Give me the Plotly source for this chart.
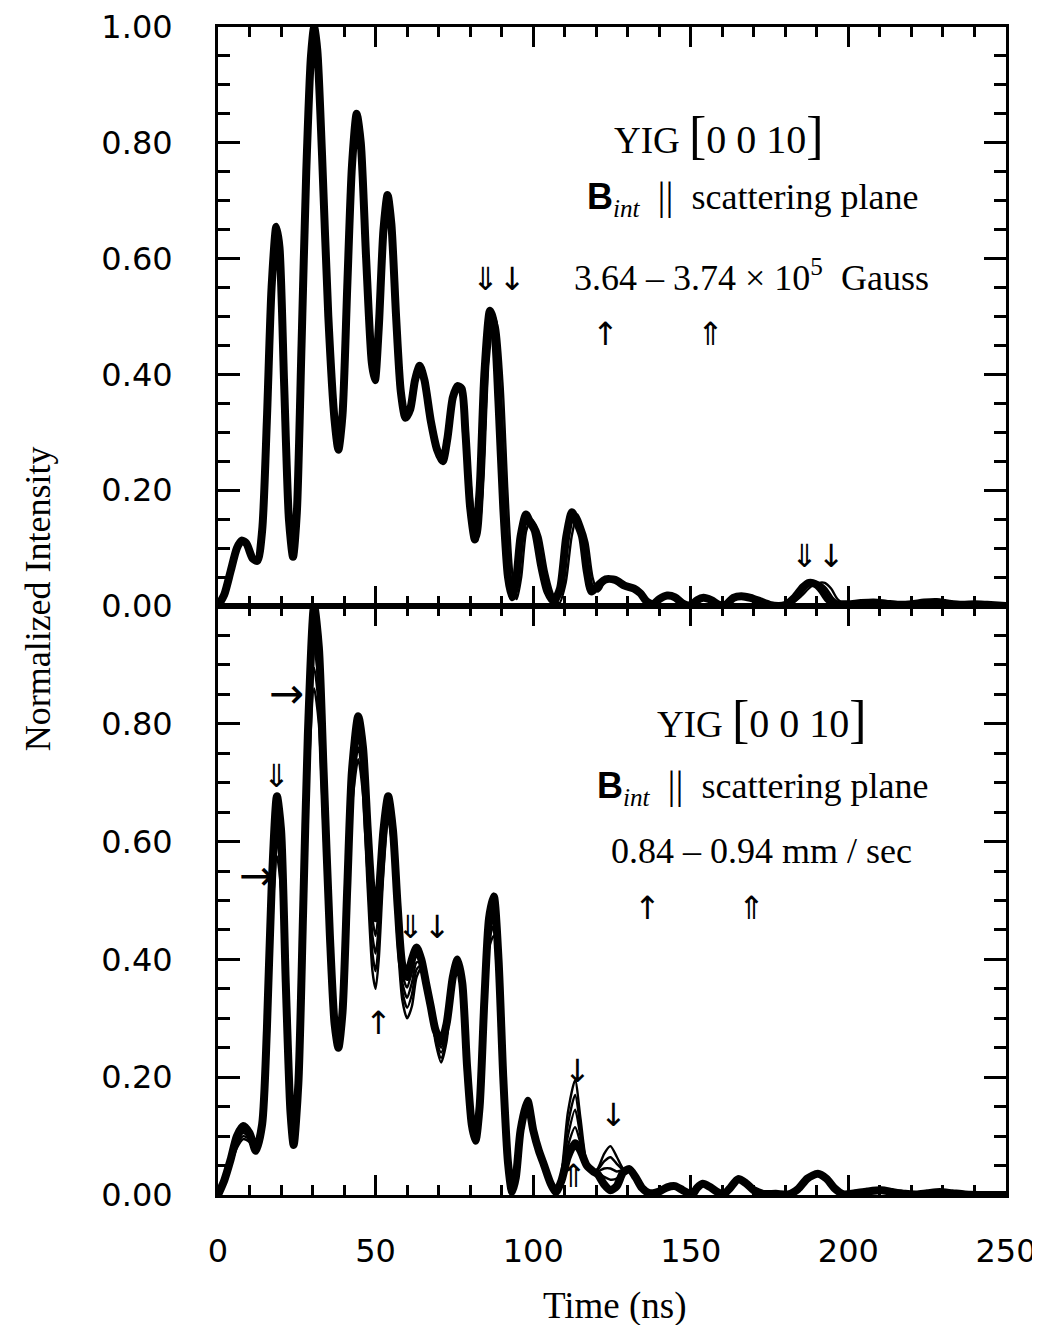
import plotly.graph_objects as go

# ---------------- data ----------------
# Top panel: reference curve (3.74e5 Gauss)
TOP_T = [0, 2, 4, 6, 7.5, 9, 11, 12.5, 14, 15.5,
         17, 18.5, 19.5, 21, 22.5, 23.8, 25, 26.5, 28, 29.5,
         30.5, 31.5, 33, 35, 37, 38.2, 39.5, 41, 42.5, 44,
         45.3, 47, 48.8, 49.8, 51, 52.5, 53.8, 55, 56.5, 58,
         59.5, 61, 62.5, 64, 65.5, 67.5, 69.5, 71.3, 72.8, 74.5,
         76, 77.3, 78.5, 80, 81.5, 83, 84.5, 86.3, 87.5, 89,
         90.5, 92, 93.3, 94.5, 96, 97.7, 99, 100.5, 102.5, 104.5,
         106.5, 108.5, 110.5, 112.3, 113.8, 115.5, 117, 118.5, 120.5, 123,
         126, 129, 132, 134, 136, 138, 140, 142.5, 145, 147.5,
         150, 152, 154, 156.5, 159, 161, 163.5, 166, 169, 172,
         175, 178, 180, 183, 185.5, 187.5, 189.5, 191.5, 193.5, 195.5,
         198, 200, 204, 208, 212, 216, 220, 224, 228, 232,
         236, 240, 244, 250]
TOP_Y = [0, .02, .06, .10, .113, .108, .082, .078, .13, .32,
         .55, .655, .62, .38, .15, .085, .16, .45, .75, .95,
         1.0, .96, .78, .50, .32, .27, .33, .55, .76, .85,
         .80, .60, .42, .39, .48, .65, .71, .66, .50, .37,
         .325, .34, .39, .415, .39, .32, .27, .25, .29, .36,
         .38, .375, .30, .17, .115, .20, .40, .51, .49, .35,
         .17, .05, .015, .04, .12, .158, .145, .13, .07, .025,
         .008, .03, .12, .162, .145, .12, .06, .025, .035, .046,
         .045, .035, .03, .022, .008, .003, .012, .018, .015, .004,
         .001, .01, .014, .01, .002, .002, .014, .017, .014, .008,
         .002, 0, .002, .015, .032, .04, .038, .028, .012, .004,
         .003, .003, .005, .006, .004, .002, .003, .006, .007, .004,
         .002, .003, .002, 0]

# Top panel: other field values, where they depart from the reference curve
TOP_369 = [
    [(18.5, .63)],
    [(44, .825)],
    [(80, .195), (81.7, .125), (83.2, .15), (84.8, .32), (86.4, .48), (87.6, .505),
     (88.8, .45), (90.2, .32), (91.6, .15), (93, .04), (94.2, .012), (95.4, .06),
     (97, .14), (98.6, .155), (100, .14), (101.5, .115), (103.5, .05), (105.5, .015),
     (107.5, .01), (109.5, .07), (111.3, .15), (113, .16), (114.7, .135), (116.3, .095),
     (117.8, .04), (119.5, .025), (121, .036)],
    [(181, .003), (184, .016), (186.5, .032), (188.8, .04), (191, .039), (193, .03),
     (195, .014), (197, .005), (199, .003)],
]
TOP_364 = [
    [(18.5, .61)],
    [(44, .81)],
    [(80, .22), (81.5, .14), (82.8, .12), (84.3, .23), (85.8, .42), (87.6, .50),
     (88.8, .48), (90.3, .38), (91.8, .20), (93.3, .06), (94.8, .012), (96.2, .05),
     (97.8, .13), (99.5, .15), (100.8, .14), (102.3, .12), (104.3, .06), (106.3, .02),
     (108.3, .005), (110.3, .04), (112.2, .12), (114, .158), (115.5, .14), (117.2, .11),
     (118.8, .05), (120.5, .025), (121.5, .03)],
    [(182, .004), (185, .017), (188, .033), (190.5, .04), (192.5, .04), (194.5, .03),
     (196.5, .012), (198.5, .004), (200, .003)],
]

# Bottom panel: five velocities, 0.84 ... 0.94 mm/s
BOT_T = [0, 2, 4, 6, 8, 10, 12, 14, 15.5, 17,
         18.7, 20, 21.5, 23, 24, 25.5, 27, 28.5,
         30.5, 32, 33.5, 35.5, 37, 38.2, 39.5, 41, 42.5, 44.5,
         46, 47.5, 49, 50, 51, 52.5, 54, 55.5, 57, 58.5,
         60, 61.5, 63, 64.5, 66, 67.5, 69, 70.8, 72.5, 74.5,
         76, 77.5, 79, 80.5, 81.7, 83, 84.5, 86, 87.5, 89,
         90.5, 92, 93.3, 94.5, 96, 98.2, 100, 101.8, 103.5, 105.5,
         107.2, 109, 111, 113.3, 115, 117, 119, 120.5, 122.5, 124.5,
         126.5, 128.5, 130.5, 132.5, 134.5]
BOT_084 = [0, .02, .05, .08, .095, .09, .072, .11, .25, .45,
           .575, .52, .30, .12, .085, .17, .42, .68,
           .86, .80, .62, .40, .28, .246, .30, .48, .66, .74,
           .68, .52, .38, .35, .40, .55, .64, .58, .43, .33,
           .30, .32, .37, .385, .37, .32, .26, .225, .26, .36,
           .39, .35, .22, .12, .092, .14, .30, .42, .44, .35,
           .18, .05, .005, .03, .11, .16, .11, .075, .05, .02,
           .005, .04, .14, .195, .13, .055, .04, .045, .07, .083,
           .065, .045, .04, .025, .01]
BOT_0865 = [0, .021, .052, .085, .10, .094, .073, .112, .26, .47,
            .60, .545, .315, .125, .085, .175, .435, .705,
            .895, .83, .645, .41, .28, .247, .30, .49, .675, .76,
            .70, .545, .41, .38, .43, .57, .65, .59, .445, .345,
            .318, .34, .383, .39, .368, .32, .265, .233, .268, .363,
            .393, .353, .22, .12, .092, .143, .308, .433, .457, .363,
            .185, .051, .005, .03, .11, .16, .11, .075, .05, .02,
            .005, .036, .12, .17, .115, .054, .04, .043, .057, .064,
            .053, .043, .041, .026, .011]
BOT_089 = [0, .022, .055, .09, .105, .097, .074, .115, .265, .485,
           .625, .57, .33, .13, .085, .18, .45, .73,
           .93, .865, .67, .42, .285, .248, .305, .50, .69, .775,
           .72, .57, .44, .41, .455, .585, .66, .60, .46, .36,
           .335, .36, .395, .393, .365, .32, .27, .242, .275, .365,
           .395, .355, .22, .12, .092, .145, .315, .445, .473, .375,
           .19, .052, .005, .03, .11, .16, .11, .075, .05, .02,
           .005, .033, .10, .145, .10, .053, .04, .04, .045, .045,
           .04, .042, .042, .028, .011]
BOT_0915 = [0, .024, .058, .095, .11, .10, .074, .118, .27, .50,
            .65, .595, .345, .135, .085, .185, .465, .755,
            .965, .90, .695, .43, .29, .249, .31, .51, .705, .795,
            .74, .595, .47, .44, .485, .60, .67, .61, .475, .375,
            .352, .38, .408, .397, .362, .32, .275, .25, .283, .368,
            .398, .358, .22, .12, .092, .148, .323, .458, .49, .388,
            .195, .054, .005, .03, .11, .16, .11, .075, .05, .02,
            .005, .029, .083, .115, .088, .051, .04, .038, .031, .026,
            .028, .04, .043, .029, .012]
BOT_094 = [0, .025, .06, .10, .117, .105, .075, .12, .28, .52,
           .677, .62, .36, .14, .085, .19, .48, .78,
           1.0, .93, .72, .44, .29, .25, .31, .52, .72, .813,
           .76, .62, .50, .47, .51, .62, .677, .62, .49, .39,
           .37, .40, .42, .40, .36, .32, .28, .26, .29, .37,
           .40, .36, .22, .12, .092, .15, .33, .47, .507, .40,
           .20, .055, .005, .03, .11, .16, .11, .075, .05, .02,
           .005, .025, .065, .088, .075, .05, .04, .035, .018, .008,
           .015, .038, .044, .03, .012]
BOT_TAIL_T = [136.5, 138, 140, 142.5, 145, 147.5, 150.5, 152, 153.8, 156,
              158.5, 160.5, 162.5, 165, 167.5, 170, 173, 177, 181, 184,
              187, 190.3, 193, 195.5, 198.5, 202, 206, 210.5, 214, 218,
              221.5, 225, 229, 233, 237, 243, 250]
BOT_TAIL_Y = [.004, .003, .006, .013, .015, .008, .001, .012, .019, .014,
              .005, .002, .012, .027, .02, .008, .002, .002, .001, .01,
              .028, .036, .028, .012, .001, .003, .006, .008, .005, .002,
              .001, .003, .005, .003, .001, 0, 0]

Y_TICKS = [0, 0.2, 0.4, 0.6, 0.8, 1.0]
Y_TOP_LABELS = ["0.00", "0.20", "0.40", "0.60", "0.80", "1.00"]
Y_BOT_TICKS = [0, 0.2, 0.4, 0.6, 0.8]
Y_BOT_LABELS = ["0.00", "0.20", "0.40", "0.60", "0.80"]
X_TICKS = [0, 50, 100, 150, 200, 250]


def merged(base_t, base_y, segments):
    pts = list(zip(base_t, base_y))
    for seg in segments:
        lo = min(p[0] for p in seg)
        hi = max(p[0] for p in seg)
        pts = [p for p in pts if not (lo <= p[0] <= hi)] + list(seg)
    pts.sort()
    return [p[0] for p in pts], [p[1] for p in pts]


fig = go.Figure()
THIN = 2.4
THICK = 8

# ---- top panel ----
for segs in (TOP_364, TOP_369):
    t, y = merged(TOP_T, TOP_Y, segs)
    fig.add_trace(go.Scatter(x=t, y=y, mode="lines", xaxis="x", yaxis="y",
                             line=dict(color="black", width=THIN, shape="spline", smoothing=0.7),
                             showlegend=False, hoverinfo="skip"))
fig.add_trace(go.Scatter(x=TOP_T, y=TOP_Y, mode="lines", xaxis="x", yaxis="y",
                         line=dict(color="black", width=THICK, shape="spline", smoothing=0.7),
                         showlegend=False, hoverinfo="skip"))

# ---- bottom panel ----
for ys, w in ((BOT_084, THIN), (BOT_0865, THIN), (BOT_089, THIN), (BOT_0915, THIN), (BOT_094, THICK)):
    fig.add_trace(go.Scatter(x=BOT_T + BOT_TAIL_T, y=ys + BOT_TAIL_Y, mode="lines",
                             xaxis="x2", yaxis="y2",
                             line=dict(color="black", width=w, shape="spline", smoothing=0.7),
                             showlegend=False, hoverinfo="skip"))

TICKFONT = dict(family="DejaVu Sans", size=32, color="black")
xcommon = dict(range=[0, 250], showline=True, linewidth=3, linecolor="black", mirror="ticks",
               ticks="inside", ticklen=20, tickwidth=3, tickcolor="black",
               tickmode="array", tickvals=X_TICKS, showgrid=False, zeroline=False,
               automargin=False, ticklabeloverflow="allow",
               minor=dict(tickmode="linear", tick0=0, dtick=10, ticks="inside", ticklen=10,
                          tickwidth=2.5, tickcolor="black", showgrid=False),
               domain=[0, 1])
ycommon = dict(range=[0, 1], showline=True, linewidth=3, linecolor="black", mirror="ticks",
               ticks="inside", ticklen=22, tickwidth=3, tickcolor="black",
               tickmode="array", showgrid=False, zeroline=False,
               automargin=False, ticklabeloverflow="allow",
               tickfont=TICKFONT, ticklabelstandoff=36,
               minor=dict(tickmode="linear", tick0=0, dtick=0.05, ticks="inside", ticklen=12,
                          tickwidth=2.5, tickcolor="black", showgrid=False))

fig.update_layout(
    width=1040, height=1325,
    margin=dict(l=210, r=42, t=19, b=138),
    paper_bgcolor="white", plot_bgcolor="white",
    xaxis=dict(**xcommon, anchor="y", showticklabels=False),
    xaxis2=dict(**xcommon, anchor="y2", showticklabels=True, tickfont=TICKFONT,
                ticklabelstandoff=26),
    yaxis=dict(**ycommon, domain=[0.5043, 1], anchor="x",
               tickvals=Y_TICKS, ticktext=Y_TOP_LABELS),
    yaxis2=dict(**ycommon, domain=[0, 0.5043], anchor="x2",
                tickvals=Y_BOT_TICKS, ticktext=Y_BOT_LABELS),
)

SERIF = "Liberation Serif"
ann = []


def txt(x, y, text, xr, yr, size=36, family=SERIF):
    ann.append(dict(x=x, y=y, xref=xr, yref=yr, text=text, showarrow=False,
                    xanchor="center", yanchor="middle",
                    font=dict(family=family, size=size, color="black")))


NB = "\u00a0"
yig = ("YIG " + "<span style='font-size:52px'>[</span>"
       + "<span style='font-size:40px'>0 0 10</span>"
       + "<span style='font-size:52px'>]</span>")
bline = ("<span style='font-family:Liberation Sans;font-size:36px'><b>B</b></span><sub><i>int</i></sub>"
         + NB + NB + "<span style='font-size:40px'>||</span>" + NB + " scattering plane")

# top panel texts
txt(159.0, 0.812, yig, "x", "y", 37)
txt(169.7, 0.706, bline, "x", "y", 36)
txt(169.1, 0.571, "3.64 \u2013 3.74 \u00d7 10<sup>5</sup>" + NB + " Gauss", "x", "y", 36)
# bottom panel texts
txt(172.5, 0.808, yig, "x2", "y2", 37)
txt(172.9, 0.694, bline, "x2", "y2", 36)
txt(172.5, 0.584, "0.84 \u2013 0.94 mm / sec", "x2", "y2", 36)

AR = "DejaVu Sans"
arrows_top = [(89.0, 0.565, "\u21d3\u2193", 32),
              (190.2, 0.086, "\u21d3\u2193", 32),
              (122.8, 0.47, "\u2191", 32), (156.4, 0.47, "\u21d1", 32)]
arrows_bot = [(21.6, 0.851, "\u2192", 42), (12.1, 0.542, "\u2192", 42), (18.4, 0.711, "\u21d3", 32),
              (65.5, 0.455, "\u21d3\u2193", 32), (50.8, 0.292, "\u2191", 32),
              (114.2, 0.211, "\u2193", 32), (125.6, 0.136, "\u2193", 32), (112.9, 0.032, "\u21d1", 32),
              (136.4, 0.487, "\u2191", 32), (169.1, 0.487, "\u21d1", 32)]
for x, y, s, fs in arrows_top:
    txt(x, y, s, "x", "y", fs, AR)
for x, y, s, fs in arrows_bot:
    txt(x, y, s, "x2", "y2", fs, AR)

# axis titles
ann.append(dict(x=-0.2284, y=0.51, xref="paper", yref="paper", text="Normalized Intensity",
                showarrow=False, textangle=-90, xanchor="center", yanchor="middle",
                font=dict(family=SERIF, size=36, color="black")))
ann.append(dict(x=0.504, y=-0.095, xref="paper", yref="paper", text="Time (ns)",
                showarrow=False, xanchor="center", yanchor="middle",
                font=dict(family=SERIF, size=37, color="black")))

fig.update_layout(annotations=ann)
fig.write_html("out.html")
